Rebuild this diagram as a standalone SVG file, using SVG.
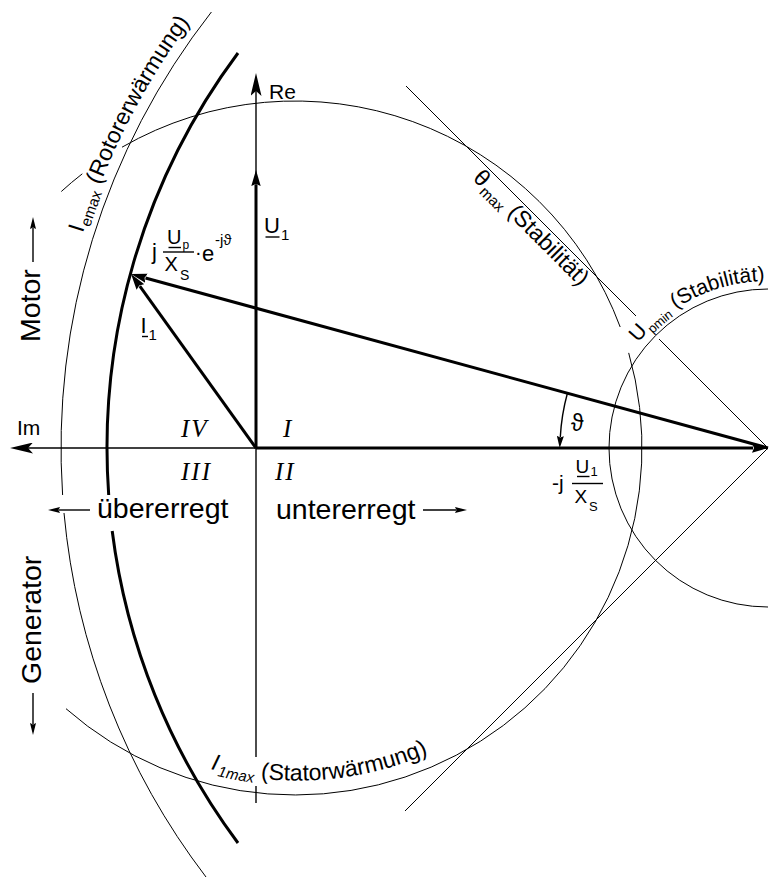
<svg xmlns="http://www.w3.org/2000/svg" width="769" height="880" viewBox="0 0 769 880">
<style>
.thin{fill:none;stroke:#000;stroke-width:1}
.axis{fill:none;stroke:#000;stroke-width:1.4}
.thick{fill:none;stroke:#000;stroke-width:3}
.tarr{fill:none;stroke:#000;stroke-width:1.4}
.bar{stroke:#000;stroke-width:1.4}
text{font-family:"Liberation Sans",Arial,"DejaVu Sans",sans-serif;fill:#000}
.big{font-size:28.5px}
.lbl{font-size:23px}
.sub{font-size:15px}
.ax{font-size:21px}
.rom{font-family:"Liberation Serif","Times New Roman",serif;font-style:italic;font-size:25px;letter-spacing:2px}
</style>
<defs>
<marker id="mv" markerUnits="userSpaceOnUse" viewBox="0 0 16 10" markerWidth="16" markerHeight="10" refX="1" refY="5" orient="auto"><path d="M0,0.3 L16,5 L0,9.7 L2,5 z" fill="#000"/></marker>
<marker id="max" markerUnits="userSpaceOnUse" viewBox="0 0 23 11" markerWidth="23" markerHeight="11" refX="5" refY="5.5" orient="auto"><path d="M0,0 L23,5.5 L0,11 L5,5.5 z" fill="#000"/></marker>
<marker id="msm" markerUnits="userSpaceOnUse" viewBox="0 0 12 6" markerWidth="12" markerHeight="6" refX="1" refY="3" orient="auto"><path d="M0,0 L12,3 L0,6 L1.5,3 z" fill="#000"/></marker>
<marker id="mth" markerUnits="userSpaceOnUse" viewBox="0 0 12 7" markerWidth="12" markerHeight="7" refX="1" refY="3.5" orient="auto"><path d="M0,0 L12,3.5 L0,7 L1.5,3.5 z" fill="#000"/></marker>
<path id="pEmax" d="M82.9,233.3 A718,718 0 0,1 306.5,-102"/>
<path id="pUpmin" d="M638.2,342.9 A167,167 0 0,1 851.5,303.4"/>
<path id="pI1max" d="M210.5,769.1 A332,332 0 0,0 550.9,662.7"/>
</defs>
<rect x="0" y="0" width="769" height="880" fill="#fff"/>

<g id="limits">
<path class="thin" d="M211.4,12 A707,707 0 0,0 62.6,495 M64,513 A707,707 0 0,0 206,877"/>
<path class="thin" d="M61.3,191.5 A347,347 0 0,1 82.3,173.8 M122,147.2 A347,347 0 0,1 620.2,327 M628.7,352.9 A347,347 0 0,1 66,708.7"/>
<path class="thin" d="M768,289 A159,159 0 0,0 609,448 A159,159 0 0,0 768,607"/>
<path class="thin" d="M406,86 L636,316 M659,339 L768,448 L405,811"/>
</g>

<g id="locus">
<path class="thick" d="M238,53 A661,661 0 0,0 108.7,495 M112.2,531 A661,661 0 0,0 238,843"/>
</g>

<g id="connectors">
<path class="axis" d="M256,757 L256,91" marker-end="url(#max)"/>
<path class="axis" d="M256,786 L256,803"/>
<path class="axis" d="M256,448 L28,448" marker-end="url(#max)"/>
<path class="thick" d="M256,448 L256,185" marker-end="url(#mv)"/>
<path class="thick" d="M256,448 L753,448" marker-end="url(#mv)"/>
<path class="thick" d="M768,448 L145.5,278" marker-end="url(#mv)"/>
<path class="thick" d="M256,448 L139.8,286.2" marker-end="url(#mv)"/>
<path class="tarr" d="M567.4,393.2 A208,208 0 0,0 560.3,437" marker-end="url(#mth)"/>
<path class="tarr" d="M33,262 L33,228" marker-end="url(#msm)"/>
<path class="tarr" d="M33,693 L33,724" marker-end="url(#msm)"/>
<path class="tarr" d="M90,510 L59,510" marker-end="url(#msm)"/>
<path class="tarr" d="M423,510 L456,510" marker-end="url(#msm)"/>
</g>

<g id="axis-labels">
<text class="ax" x="269" y="99">Re</text>
<text class="ax" x="17" y="435">Im</text>
<text class="rom" x="181" y="437">IV</text>
<text class="rom" x="283" y="437">I</text>
<text class="rom" x="181" y="480">III</text>
<text class="rom" x="275" y="480">II</text>
</g>

<g id="region-labels">
<text class="big" transform="translate(40,342) rotate(-90)">Motor</text>
<text class="big" transform="translate(41,684) rotate(-90)">Generator</text>
<text class="big" x="97" y="518">übererregt</text>
<text class="big" x="276" y="519">untererregt</text>
</g>

<g id="vector-labels">
<text x="264" y="233" font-size="22">U</text>
<line class="bar" x1="265.5" y1="237" x2="279.5" y2="237"/>
<text x="281" y="240" font-size="15">1</text>

<text x="140.5" y="333" font-size="22">I</text>
<line class="bar" x1="142" y1="336.5" x2="148" y2="336.5"/>
<text x="148.5" y="340" font-size="15">1</text>

<text x="152" y="259" font-size="22">j</text>
<text x="167" y="244" font-size="20">U</text>
<line class="bar" x1="168.5" y1="247.5" x2="181" y2="247.5"/>
<text x="182.5" y="248.5" font-size="12">p</text>
<line class="bar" x1="163" y1="252" x2="194" y2="252"/>
<text x="164.5" y="271" font-size="20">X</text>
<text x="180" y="280" font-size="14">S</text>
<text x="195" y="259" font-size="20">·</text>
<text x="202" y="261" font-size="22">e</text>
<text x="215" y="245" font-size="15">-jϑ</text>

<text x="552" y="490" font-size="21">-j</text>
<text x="575.5" y="473" font-size="19">U</text>
<line class="bar" x1="577" y1="476.5" x2="589.5" y2="476.5"/>
<text x="590.5" y="476" font-size="13">1</text>
<line class="bar" x1="572" y1="483.5" x2="603" y2="483.5"/>
<text x="574.5" y="503" font-size="19">X</text>
<text x="589" y="511" font-size="13">S</text>

<text x="571" y="431" font-size="23">ϑ</text>
</g>

<g id="limit-labels">
<text class="lbl"><textPath href="#pEmax">I<tspan class="sub" dx="1.5" dy="5">emax</tspan><tspan dy="-5"> (Rotorerwärmung)</tspan></textPath></text>
<text style="font-size:21px"><textPath href="#pUpmin">U<tspan style="font-size:13px" dx="1.5" dy="5">pmin</tspan><tspan dy="-5"> (Stabilität)</tspan></textPath></text>
<text class="lbl" transform="translate(472,179) rotate(45)">θ<tspan class="sub" dx="1.5" dy="5">max</tspan><tspan dy="-5"> (Stabilität)</tspan></text>
<text class="lbl"><textPath href="#pI1max"><tspan font-style="italic">I</tspan><tspan class="sub" font-style="italic" dx="1.5" dy="5">1max</tspan><tspan dy="-5"> (Statorwärmung)</tspan></textPath></text>
</g>
</svg>
